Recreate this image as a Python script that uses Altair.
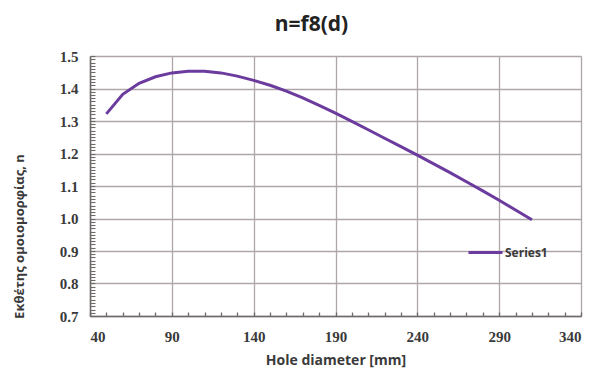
import altair as alt
import pandas as pd

diameter = [50, 60, 70, 80, 90, 100, 110, 120, 130, 140, 150, 160, 170, 180,
            190, 200, 210, 220, 230, 240, 250, 260, 270, 280, 290, 300, 310]
n_values = [1.322, 1.382, 1.416, 1.436, 1.448, 1.453, 1.453, 1.448, 1.438, 1.425,
            1.410, 1.392, 1.371, 1.348, 1.324, 1.299, 1.273, 1.247, 1.221, 1.195,
            1.168, 1.141, 1.113, 1.085, 1.056, 1.026, 0.996]
series_name = "Series1"

x_major = [40, 90, 140, 190, 240, 290, 340]
y_major = [0.7, 0.8, 0.9, 1.0, 1.1, 1.2, 1.3, 1.4, 1.5]
x_minor = list(range(40, 341, 10))
y_minor = [round(0.7 + i * 0.01, 2) for i in range(81)]

df = pd.DataFrame({"d": diameter, "n": n_values, "series": [series_name] * len(diameter)})

LINE = "#6c3b9e"
GRID = "#aea6a6"
DOMAIN = "#6e6a6a"
TXT = "#3a3a3a"

xscale = alt.Scale(domain=[40, 340], nice=False, zero=False)
yscale = alt.Scale(domain=[0.7, 1.5], nice=False, zero=False)

main = alt.Chart(df).mark_line(strokeWidth=3).encode(
    x=alt.X("d:Q", scale=xscale, axis=alt.Axis(
        orient="bottom", values=x_major, format="d", grid=True, gridColor=GRID,
        gridWidth=1.3, ticks=False, domainColor=DOMAIN, domainWidth=1.5,
        labelFont="Liberation Serif", labelFontWeight="bold", labelFontSize=15,
        labelColor=TXT, labelPadding=13,
        title="Hole diameter [mm]", titleFont="Open Sans", titleFontSize=14,
        titleFontWeight="bold", titleColor=TXT, titlePadding=9)),
    y=alt.Y("n:Q", scale=yscale, axis=alt.Axis(
        orient="left", values=y_major, format=".1f", grid=True, gridColor=GRID,
        gridWidth=1.3, ticks=False, domainColor=DOMAIN, domainWidth=1.5,
        labelFont="Liberation Serif", labelFontWeight="bold", labelFontSize=15,
        labelColor=TXT, labelPadding=12,
        title="Εκθέτης ομοιομορφίας, n", titleFont="Open Sans", titleFontSize=13,
        titleFontWeight="bold", titleColor=TXT, titleX=-71, titleY=180,
        titleBaseline="middle")),
    color=alt.Color("series:N", scale=alt.Scale(range=[LINE]), legend=alt.Legend(
        title=None, orient="none", legendX=377, legendY=178, padding=0,
        symbolType="stroke", symbolSize=1156, symbolStrokeWidth=3,
        labelFont="Open Sans", labelFontWeight="bold", labelFontSize=12,
        labelColor=TXT, labelOffset=1)),
)

minor = alt.Chart(df).mark_line(opacity=0).encode(
    x=alt.X("d:Q", scale=xscale, axis=alt.Axis(
        orient="bottom", values=x_minor, labels=False, domain=False, grid=False,
        ticks=True, tickSize=4, tickColor=DOMAIN, tickWidth=1.3, offset=-4, title=None)),
    y=alt.Y("n:Q", scale=yscale, axis=alt.Axis(
        orient="left", values=y_minor, labels=False, domain=False, grid=False,
        ticks=True, tickSize=5, tickColor=DOMAIN, tickWidth=1.1, offset=-5, title=None)),
)

chart = alt.layer(main, minor).resolve_axis(x="independent", y="independent").properties(
    width=491, height=260, autosize="none",
    padding={"left": 82, "top": 48, "right": 10, "bottom": 52},
    title=alt.TitleParams("n=f8(d)", font="Open Sans", fontSize=21, fontWeight="bold",
                          color="#222222", anchor="middle", dx=-24, offset=14),
).configure_view(stroke=None)

chart.save("out.html", embed_options={"renderer": "svg", "actions": False})
